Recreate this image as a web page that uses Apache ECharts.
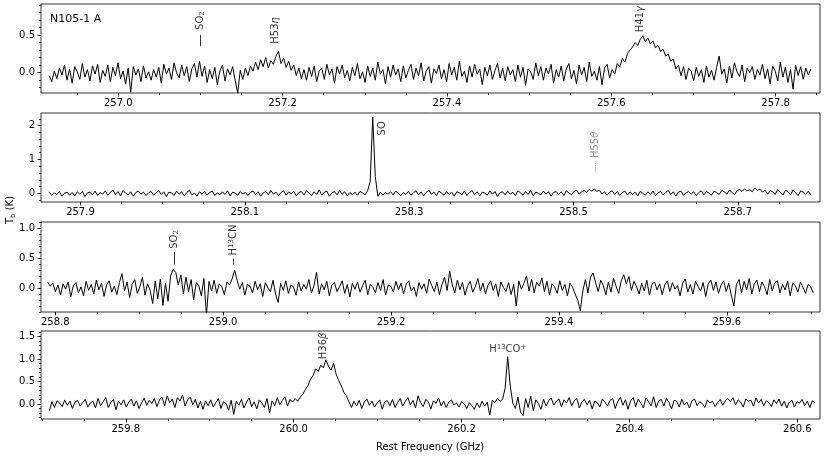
<!DOCTYPE html>
<html>
<head>
<meta charset="utf-8">
<script src="https://cdn.jsdelivr.net/npm/echarts@6/dist/echarts.min.js"></script>
<style>
  html, body { margin: 0; padding: 0; background: #fff; }
  #chart { width: 830px; height: 458px; }
</style>
</head>
<body>
<div id="chart"></div>
<script>
// channel grid of each panel (GHz)
const p1Start = 256.916, p1Step = 0.0031
const p2Start = 257.862, p2Step = 0.0031
const p3Start = 258.791, p3Step = 0.00305
const p4Start = 259.709, p4Step = 0.00305

// brightness temperature Tb (K)
const p1Values = [
  -0.04, -0.12, 0.02, -0.08, 0.06, -0.03, 0.10, -0.10, 0.05, -0.14, 0.08, 0.01, -0.09, 0.12, -0.06, 0.04, -0.11, 0.09, -0.02, 0.11,
  -0.13, 0.03, -0.05, 0.10, -0.12, 0.07, -0.04, 0.13, -0.08, 0.02, -0.15, 0.06, -0.26, 0.08, -0.03, 0.05, -0.12, 0.09, -0.07, 0.01,
  -0.10, 0.04, -0.06, 0.07, -0.14, 0.11, -0.02, 0.06, -0.09, 0.13, 0.00, -0.07, 0.10, -0.04, 0.08, -0.12, 0.05, 0.12, -0.06, 0.15,
  -0.05, 0.09, -0.13, 0.04, -0.08, 0.07, -0.16, 0.02, 0.10, -0.11, 0.05, -0.03, 0.08, -0.10, -0.27, 0.03, -0.09, 0.06, -0.04, 0.09,
  0.02, 0.14, 0.04, 0.17, 0.08, 0.20, 0.06, 0.16, 0.11, 0.22, 0.28, 0.12, 0.19, 0.07, 0.15, 0.03, 0.10, -0.04, 0.06, -0.08,
  0.04, -0.10, 0.07, -0.05, 0.09, -0.12, 0.02, 0.06, -0.09, 0.11, -0.03, 0.05, -0.14, 0.08, -0.02, 0.10, -0.07, 0.03, -0.11, 0.07,
  -0.04, 0.12, -0.08, 0.01, -0.13, 0.09, -0.05, 0.06, -0.10, 0.14, -0.02, 0.04, -0.15, 0.08, -0.06, 0.10, -0.03, 0.05, -0.12, 0.09,
  -0.07, 0.03, 0.11, -0.09, 0.06, -0.04, 0.13, -0.11, 0.02, 0.08, -0.14, 0.05, -0.01, 0.10, -0.08, 0.04, -0.12, 0.12, -0.03, 0.07,
  -0.10, 0.15, -0.05, 0.02, -0.13, 0.09, -0.06, 0.11, -0.02, 0.05, -0.16, 0.07, -0.04, 0.10, -0.09, 0.03, 0.12, -0.07, 0.06, -0.11,
  0.08, -0.03, 0.04, -0.12, 0.10, -0.06, 0.07, -0.17, 0.05, 0.01, -0.09, 0.13, -0.04, 0.08, -0.10, 0.06, -0.02, 0.11, -0.14, 0.04,
  -0.06, 0.09, -0.11, 0.05, 0.12, -0.08, 0.03, -0.15, 0.10, -0.03, 0.07, -0.12, 0.14, -0.05, 0.02, -0.10, 0.08, -0.16, 0.06, 0.11,
  -0.07, 0.04, -0.02, 0.12, 0.08, 0.19, 0.14, 0.25, 0.30, 0.34, 0.40, 0.36, 0.44, 0.49, 0.41, 0.46, 0.38, 0.42, 0.33, 0.36,
  0.28, 0.31, 0.22, 0.25, 0.15, 0.18, 0.05, 0.10, -0.04, 0.08, -0.09, 0.06, 0.02, -0.11, 0.07, -0.05, 0.04, -0.13, 0.09, -0.06,
  0.03, -0.10, 0.07, 0.22, -0.02, 0.05, -0.14, 0.09, -0.07, 0.13, 0.01, -0.05, 0.10, -0.12, 0.06, 0.00, 0.08, -0.09, 0.04, -0.03,
  0.11, -0.08, 0.05, -0.15, 0.09, 0.02, -0.11, 0.14, -0.06, 0.07, -0.13, 0.04, -0.22, 0.10, -0.04, 0.08, -0.09, 0.06, -0.03, 0.05
]
const p2Values = [
  0.05, -0.06, 0.02, -0.03, 0.06, -0.08, 0.01, 0.04, -0.05, 0.03, -0.07, 0.05, -0.02, 0.06, -0.09, 0.02, 0.04, -0.04, 0.07, -0.06,
  0.03, -0.02, 0.08, -0.05, 0.04, 0.10, -0.03, 0.06, -0.07, 0.09, 0.01, -0.04, 0.05, -0.08, 0.03, 0.07, -0.02, 0.04, -0.06, 0.02,
  0.06, -0.05, 0.03, 0.08, -0.03, 0.05, -0.09, 0.04, 0.02, -0.06, 0.07, -0.02, 0.05, -0.07, 0.03, 0.09, -0.04, 0.01, -0.08, 0.05,
  -0.02, 0.06, -0.05, 0.03, 0.07, -0.06, 0.02, -0.04, 0.05, -0.03, 0.08, -0.07, 0.04, 0.01, -0.05, 0.06, -0.02, 0.03, -0.06, 0.04,
  0.07, -0.03, 0.05, -0.08, 0.02, 0.06, -0.04, 0.09, -0.02, 0.04, -0.06, 0.03, 0.08, -0.05, 0.05, -0.01, 0.07, -0.07, 0.03, 0.06,
  -0.04, 0.08, 0.02, -0.06, 0.05, -0.03, 0.11, -0.05, 0.04, 0.07, -0.08, 0.02, 0.06, -0.04, 0.09, -0.02, 0.05, -0.07, 0.03, -0.03,
  0.04, -0.05, 0.06, 0.02, -0.04, 0.08, 0.35, 2.25, 0.50, -0.08, 0.04, -0.05, 0.03, -0.02, 0.05, -0.04, 0.07, 0.01, -0.06, 0.03,
  -0.03, 0.06, -0.05, 0.02, 0.08, -0.04, 0.05, -0.07, 0.03, 0.10, -0.02, 0.04, -0.06, 0.07, 0.01, -0.05, 0.06, -0.03, 0.04, -0.08,
  0.05, 0.02, -0.04, 0.07, -0.06, 0.03, 0.09, -0.03, 0.05, -0.07, 0.04, 0.01, -0.05, 0.08, -0.02, 0.06, -0.09, 0.03, 0.05, -0.04,
  0.07, -0.02, 0.04, -0.06, 0.08, 0.02, -0.05, 0.06, -0.03, 0.09, -0.07, 0.04, 0.01, -0.04, 0.07, -0.02, 0.05, -0.08, 0.03, 0.06,
  -0.03, 0.05, -0.06, 0.08, 0.02, -0.04, 0.06, 0.10, -0.02, 0.05, 0.09, 0.03, 0.12, 0.07, 0.13, 0.06, 0.10, -0.02, 0.05, -0.05,
  0.04, 0.08, -0.03, 0.06, -0.06, 0.03, 0.07, -0.04, 0.05, -0.02, 0.04, -0.07, 0.06, 0.01, -0.05, 0.05, -0.03, 0.07, -0.06, 0.02,
  0.06, -0.04, 0.03, 0.09, -0.03, 0.05, -0.08, 0.04, 0.07, -0.05, 0.02, 0.06, -0.02, 0.05, -0.06, 0.03, 0.08, -0.04, 0.06, 0.01,
  -0.05, 0.07, 0.03, -0.03, 0.09, 0.05, -0.02, 0.10, 0.04, -0.04, 0.08, 0.12, 0.06, 0.14, 0.08, 0.11, 0.05, 0.17, 0.09, 0.13,
  0.04, 0.10, -0.02, 0.08, 0.05, -0.03, 0.12, 0.03, -0.05, 0.09, 0.06, -0.04, 0.11, 0.02, -0.06, 0.08, 0.04, -0.03, 0.07, -0.05
]
const p3Values = [
  0.10, 0.03, 0.08, -0.06, 0.05, -0.12, 0.07, -0.02, 0.10, -0.15, 0.04, 0.09, -0.08, 0.02, -0.13, 0.11, -0.04, 0.06, -0.10, 0.13,
  -0.03, 0.08, -0.14, 0.05, 0.12, -0.07, 0.03, -0.11, 0.09, 0.24, -0.05, 0.10, -0.16, 0.06, 0.14, -0.09, 0.02, 0.18, -0.12, 0.07,
  -0.04, -0.26, 0.12, -0.18, 0.15, -0.29, 0.08, -0.22, 0.20, 0.31, 0.26, 0.05, 0.22, -0.10, 0.18, -0.06, 0.14, -0.20, 0.09, 0.04,
  -0.13, 0.16, -0.45, 0.11, -0.05, 0.13, -0.09, 0.07, 0.02, -0.11, 0.10, 0.05, 0.15, 0.30, 0.12, -0.02, 0.09, -0.12, 0.06, 0.03,
  -0.08, 0.11, -0.03, 0.07, -0.14, 0.09, 0.00, -0.06, 0.13, -0.10, -0.24, 0.08, -0.04, 0.12, -0.09, 0.05, 0.02, -0.12, 0.10, -0.05,
  0.06, -0.02, 0.14, -0.08, 0.04, 0.26, -0.10, 0.07, -0.03, 0.11, -0.13, 0.05, 0.09, -0.06, 0.02, 0.12, -0.09, 0.06, -0.15, 0.08,
  -0.02, 0.10, -0.07, 0.04, 0.13, -0.11, 0.06, 0.01, -0.08, 0.09, -0.04, 0.14, -0.12, 0.05, 0.03, -0.07, 0.11, -0.03, 0.08, -0.10,
  0.06, 0.12, -0.05, 0.02, -0.14, 0.09, -0.02, 0.07, -0.09, 0.15, 0.04, -0.06, 0.10, -0.11, 0.06, 0.18, -0.04, 0.28, 0.05, -0.08,
  0.13, -0.03, 0.09, -0.12, 0.04, 0.11, -0.07, 0.02, 0.16, -0.05, 0.08, -0.10, 0.05, 0.12, -0.04, 0.07, -0.14, 0.10, 0.01, -0.06,
  0.09, -0.11, 0.06, -0.30, 0.12, -0.02, 0.08, 0.20, -0.05, 0.15, -0.08, 0.10, 0.03, 0.17, -0.06, 0.11, -0.12, 0.07, 0.02, -0.09,
  0.12, -0.04, 0.06, -0.13, 0.08, 0.01, -0.10, -0.20, -0.38, -0.05, 0.14, -0.08, 0.18, 0.25, 0.09, -0.06, 0.13, 0.04, -0.11, 0.10,
  -0.07, 0.16, 0.03, -0.09, 0.12, 0.22, 0.07, 0.19, -0.04, 0.11, 0.02, -0.10, 0.08, -0.05, 0.13, -0.12, 0.06, 0.10, -0.03, 0.07,
  -0.11, 0.05, 0.12, -0.06, 0.09, -0.02, 0.04, -0.13, 0.08, 0.15, -0.07, 0.06, -0.10, 0.11, 0.03, -0.05, 0.09, -0.14, 0.07, 0.13,
  -0.04, 0.10, -0.09, 0.05, 0.12, -0.06, 0.08, -0.12, -0.30, 0.06, 0.14, -0.08, 0.11, -0.03, 0.16, -0.10, 0.07, 0.13, -0.06, 0.10,
  0.02, -0.11, 0.14, -0.05, 0.09, 0.12, -0.08, 0.06, -0.03, 0.11, -0.13, 0.08, 0.04, -0.07, 0.10, 0.01, -0.09, 0.06, 0.02, -0.08
]
const p4Values = [
  -0.15, 0.05, -0.08, 0.07, 0.02, -0.06, 0.09, -0.03, 0.06, -0.10, 0.04, 0.08, -0.05, 0.03, 0.10, -0.07, 0.02, 0.06, -0.09, 0.12,
  -0.04, 0.05, 0.14, -0.08, 0.03, 0.10, -0.13, 0.06, -0.02, 0.09, -0.07, 0.04, 0.11, -0.05, 0.07, -0.10, 0.02, 0.13, -0.03, 0.08,
  0.01, 0.12, -0.06, 0.09, 0.15, -0.04, 0.18, 0.03, 0.11, -0.08, 0.14, 0.06, 0.20, -0.05, 0.09, 0.15, -0.02, 0.10, -0.09, 0.06,
  -0.12, 0.07, -0.04, 0.09, -0.07, 0.03, 0.12, -0.10, 0.05, 0.01, -0.14, 0.08, -0.23, 0.06, -0.03, 0.10, -0.09, 0.04, 0.13, -0.06,
  0.05, -0.11, 0.09, 0.02, -0.08, 0.12, -0.20, 0.07, -0.04, 0.14, -0.02, 0.08, 0.16, -0.05, 0.10, 0.04, 0.12, 0.06, 0.15, 0.22,
  0.32, 0.41, 0.55, 0.63, 0.78, 0.72, 0.86, 0.80, 0.98, 0.84, 0.75, 0.90, 0.66, 0.52, 0.40, 0.26, 0.18, 0.05, -0.08, 0.06,
  -0.05, 0.08, -0.10, 0.04, 0.11, -0.03, 0.06, -0.07, 0.02, 0.09, -0.12, 0.05, 0.07, -0.04, 0.10, -0.08, 0.03, 0.12, -0.05, 0.06,
  0.14, -0.02, 0.08, -0.09, 0.18, 0.03, -0.06, 0.10, 0.05, -0.11, 0.07, 0.01, 0.13, -0.04, 0.06, -0.08, 0.04, 0.09, -0.03, 0.02,
  -0.07, 0.05, 0.00, -0.10, 0.03, -0.04, -0.12, 0.02, -0.08, 0.06, -0.05, 0.04, -0.25, 0.08, 0.03, 0.12, 0.06, 0.10, 0.35, 1.05,
  0.40, 0.02, -0.10, 0.15, -0.18, -0.26, 0.12, -0.08, 0.17, -0.15, 0.09, 0.01, -0.12, 0.10, -0.05, 0.07, 0.13, -0.03, 0.06, 0.11,
  -0.06, 0.09, 0.02, 0.14, -0.04, 0.07, 0.12, -0.09, 0.05, 0.10, -0.02, 0.08, -0.11, 0.06, 0.03, -0.07, 0.11, 0.04, -0.05, 0.08,
  0.12, -0.10, 0.05, 0.15, -0.03, 0.09, -0.12, 0.07, 0.14, -0.06, 0.11, 0.02, -0.09, 0.13, 0.05, -0.04, 0.16, -0.08, 0.07, 0.10,
  -0.05, 0.12, 0.03, -0.11, 0.08, 0.06, -0.07, 0.10, -0.02, 0.04, -0.09, 0.07, 0.11, -0.04, 0.05, 0.01, -0.08, 0.09, 0.02, 0.06,
  -0.06, 0.03, 0.10, -0.03, 0.07, 0.12, 0.05, 0.14, -0.02, 0.09, 0.04, -0.07, 0.11, 0.06, 0.08, -0.05, 0.13, 0.02, 0.10, -0.04,
  0.07, 0.03, -0.06, 0.09, 0.01, 0.11, -0.05, 0.06, -0.09, 0.04, 0.08, -0.07, 0.05, 0.02, 0.10, -0.04, 0.06, -0.08, 0.07, 0.03
]

// axis ranges and tick labels
const xMin = [256.906, 257.852, 258.783, 259.699]
const xMax = [257.854, 258.800, 259.711, 260.627]
const yMin = [-0.27, -0.25, -0.40, -0.335]
const yMax = [0.91, 2.37, 1.10, 1.62]
const xTicks = [
  [257.0, 257.2, 257.4, 257.6, 257.8],
  [257.9, 258.1, 258.3, 258.5, 258.7],
  [258.8, 259.0, 259.2, 259.4, 259.6],
  [259.8, 260.0, 260.2, 260.4, 260.6]
]
const yTicks = [[0, 0.5], [0, 1, 2], [0, 0.5, 1.0], [0, 0.5, 1.0, 1.5]]
const yDecimals = [1, 0, 1, 1]
const yMinorStep = [0.1, 0.2, 0.1, 0.1]

// line identifications
const labelPanel = [0, 0, 0, 1, 1, 2, 2, 3, 3]
const labelText = ['SO{s|2}', 'H53{i|η}', 'H41{i|γ}', 'SO', 'H55{i|θ}', 'SO{s|2}', 'H{u|13}CN', 'H36{i|β}', 'H{u|13}CO{u|+}']
const labelFreq = [257.100, 257.191, 257.636, 258.268, 258.527, 258.942, 259.012, 260.035, 260.255]
const labelY = [0.69, 0.56, 0.71, 1.92, 1.43, 0.81, 0.80, 1.29, 1.21]
const labelRotate = [90, 90, 90, 90, 90, 90, 90, 90, 0]
const labelTentative = [false, false, false, false, true, false, false, false, false]
// short marker lines under weak lines
const markPanel = [0, 1, 2, 2]
const markFreq = [257.100, 258.527, 258.942, 259.012]
const markLow = [0.35, 0.64, 0.39, 0.39]
const markHigh = [0.50, 0.94, 0.60, 0.49]
const markTentative = [false, true, false, false]

const starts = [p1Start, p2Start, p3Start, p4Start]
const steps = [p1Step, p2Step, p3Step, p4Step]
const values = [p1Values, p2Values, p3Values, p4Values]
const gridTop = [4, 113, 222, 331]
const gridHeight = [89, 89, 90, 88]

const font = 'DejaVu Sans'
const grey = '#808080'

function minorList(min, max, step) {
  const out = []
  for (let v = Math.ceil(min / step) * step; v <= max; v += step) {
    out.push(Math.round(v * 1000) / 1000)
  }
  return out
}

const chart = echarts.init(document.getElementById('chart'))
const grids = [], xAxes = [], yAxes = [], series = []

for (let k = 0; k < 4; k++) {
  grids.push({
    left: 41, right: 10, top: gridTop[k], height: gridHeight[k],
    show: true, borderColor: '#000', borderWidth: 0.8,
    outerBoundsMode: 'none'
  })
  const tickStyle = { color: '#000', width: 0.8 }
  const hidden = { show: false }
  const noLine = { show: false, onZero: false }
  // major x
  xAxes.push({
    type: 'value', gridIndex: k, position: 'bottom', min: xMin[k], max: xMax[k],
    axisLine: noLine, splitLine: hidden,
    axisTick: { show: true, customValues: xTicks[k], length: 3.5, lineStyle: tickStyle },
    axisLabel: {
      customValues: xTicks[k], formatter: v => v.toFixed(1), margin: 5,
      color: '#000', fontSize: 10, fontFamily: font
    }
  })
  // minor x
  xAxes.push({
    type: 'value', gridIndex: k, position: 'bottom', min: xMin[k], max: xMax[k],
    axisLine: noLine, splitLine: hidden, axisLabel: hidden,
    axisTick: { show: true, customValues: minorList(xMin[k], xMax[k], 0.05), length: 2, lineStyle: tickStyle }
  })
  // major y
  yAxes.push({
    type: 'value', gridIndex: k, position: 'left', min: yMin[k], max: yMax[k],
    axisLine: noLine, splitLine: hidden,
    axisTick: { show: true, customValues: yTicks[k], length: 3.5, lineStyle: tickStyle },
    axisLabel: {
      customValues: yTicks[k], formatter: v => v.toFixed(yDecimals[k]), margin: 6,
      color: '#000', fontSize: 10, fontFamily: font
    }
  })
  // minor y
  yAxes.push({
    type: 'value', gridIndex: k, position: 'left', min: yMin[k], max: yMax[k],
    axisLine: noLine, splitLine: hidden, axisLabel: hidden,
    axisTick: { show: true, customValues: minorList(yMin[k], yMax[k], yMinorStep[k]), length: 2, lineStyle: tickStyle }
  })

  series.push({
    type: 'line',
    xAxisIndex: 2 * k, yAxisIndex: 2 * k,
    data: values[k].map((v, i) => [starts[k] + i * steps[k], v]),
    showSymbol: false, symbol: 'none',
    lineStyle: { color: '#000', width: 1 },
    silent: true
  })

  const labelItems = []
  labelPanel.forEach((p, j) => {
    if (p !== k) return
    const c = labelTentative[j] ? grey : '#000'
    labelItems.push({
      value: [labelFreq[j], labelY[j]],
      label: {
        show: true, position: 'inside', rotate: labelRotate[j],
        formatter: labelText[j], color: c, fontSize: 10, fontFamily: font,
        rich: {
          i: { fontStyle: 'italic', fontSize: 10, fontFamily: font, color: c },
          s: { fontSize: 7, fontFamily: font, color: c, verticalAlign: 'bottom', padding: [4, 0, 0, 0] },
          u: { fontSize: 7, fontFamily: font, color: c, verticalAlign: 'top', padding: [0, 0, 4, 0] }
        }
      }
    })
  })
  const markItems = []
  markPanel.forEach((p, j) => {
    if (p !== k) return
    markItems.push([
      {
        coord: [markFreq[j], markLow[j]],
        lineStyle: markTentative[j]
          ? { color: grey, type: [1, 1], width: 0.8 }
          : { color: '#000', type: 'solid', width: 0.8 }
      },
      { coord: [markFreq[j], markHigh[j]] }
    ])
  })
  series.push({
    type: 'scatter',
    xAxisIndex: 2 * k, yAxisIndex: 2 * k,
    symbolSize: 0,
    itemStyle: { color: 'rgba(0,0,0,0)' },
    silent: true,
    data: labelItems,
    markLine: {
      silent: true, symbol: ['none', 'none'], animation: false,
      label: { show: false },
      data: markItems
    }
  })
}

chart.setOption({
  animation: false,
  backgroundColor: '#fff',
  grid: grids,
  xAxis: xAxes,
  yAxis: yAxes,
  series: series,
  graphic: [
    {
      type: 'text', x: 50, y: 19,
      style: { text: 'N105-1 A', fill: '#000', font: '11px "DejaVu Sans"', textVerticalAlign: 'middle' }
    },
    {
      type: 'text', x: 430, y: 447,
      style: { text: 'Rest Frequency (GHz)', fill: '#000', font: '10px "DejaVu Sans"', textAlign: 'center', textVerticalAlign: 'middle' }
    },
    {
      type: 'text', x: 10, y: 210, rotation: Math.PI / 2,
      style: {
        text: '{t|T}{s|b}{t| (K)}', fill: '#000', textAlign: 'center', textVerticalAlign: 'middle',
        rich: {
          t: { fontSize: 10, fontFamily: font, lineHeight: 14 },
          s: { fontSize: 7, fontFamily: font, lineHeight: 14, verticalAlign: 'bottom', padding: [5, 0, 0, 0] }
        }
      }
    }
  ]
})
</script>
</body>
</html>
